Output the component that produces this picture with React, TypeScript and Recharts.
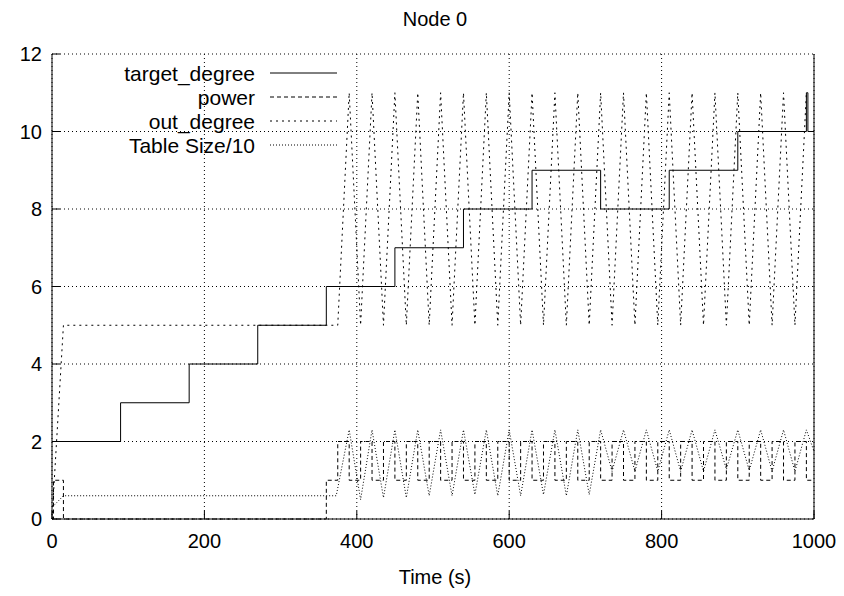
import { LineChart, Line, XAxis, YAxis, CartesianGrid } from "recharts"

// time (s) / value pairs
const targetTime = [0, 90, 180, 270, 360, 450, 540, 630, 720, 810, 900, 990, 992, 1000]
const targetDegree = [2, 3, 4, 5, 6, 7, 8, 9, 8, 9, 10, 11, 10, 10]

const powerTime = [
  0, 2, 15, 360, 375, 390, 405, 420, 435, 450, 465, 480, 495, 510, 525, 540, 555, 570, 585, 600,
  615, 630, 645, 660, 675, 690, 705, 720, 735, 750, 765, 780, 795, 810, 825, 840, 855, 870, 885,
  900, 915, 930, 945, 960, 975, 990, 1000,
]
const powerValue = [
  0, 1, 0, 1, 2, 1, 2, 1, 2, 1, 2, 1, 2, 1, 2, 1, 2, 1, 2, 1,
  2, 1, 2, 1, 2, 1, 2, 1, 2, 1, 2, 1, 2, 1, 2, 1, 2, 1, 2,
  1, 2, 1, 2, 1, 2, 1, 1,
]

const outTime = [
  0, 15, 375, 390, 405, 420, 435, 450, 465, 480, 495, 510, 525, 540, 555, 570, 585, 600,
  615, 630, 645, 660, 675, 690, 705, 720, 735, 750, 765, 780, 795, 810, 825, 840, 855, 870, 885,
  900, 915, 930, 945, 960, 975, 990,
]
const outDegree = [
  0, 5, 5, 11, 5, 11, 5, 11, 5, 11, 5, 11, 5, 11, 5, 11, 5, 11,
  5, 11, 5, 11, 5, 11, 5, 11, 5, 11, 5, 11, 5, 11, 5, 11, 5, 11, 5,
  11, 5, 11, 5, 11, 5, 11,
]

const tableTime = [
  0, 15, 373, 390, 405, 420, 435, 450, 465, 480, 495, 510, 525, 540, 555, 570, 585, 600,
  615, 630, 645, 660, 675, 690, 705, 720, 735, 750, 765, 780, 795, 810, 825, 840, 855, 870, 885,
  900, 915, 930, 945, 960, 975, 990, 1000,
]
const tableSize = [
  0.3, 0.6, 0.6, 2.3, 0.5, 2.3, 0.55, 2.3, 0.55, 2.3, 0.6, 2.3, 0.6, 2.3, 0.63, 2.3, 0.6, 2.3,
  0.6, 2.3, 0.63, 2.3, 0.6, 2.3, 0.63, 2.3, 1.23, 2.3, 1.23, 2.3, 1.23, 2.3, 1.23, 2.3, 1.23, 2.3, 1.28,
  2.3, 1.25, 2.3, 1.23, 2.3, 1.23, 2.3, 1.75,
]

const xTicks = [0, 200, 400, 600, 800, 1000]
const yTicks = [0, 2, 4, 6, 8, 10, 12]

const toRows = (xs: number[], ys: number[]) => xs.map((t, i) => ({ t, v: ys[i] }))

const series = [
  { name: "target_degree", rows: toRows(targetTime, targetDegree), type: "stepAfter", dash: undefined },
  { name: "power", rows: toRows(powerTime, powerValue), type: "stepAfter", dash: "4 3" },
  { name: "out_degree", rows: toRows(outTime, outDegree), type: "linear", dash: "2 4" },
  { name: "Table Size/10", rows: toRows(tableTime, tableSize), type: "linear", dash: "1 2" },
]

const font = "'Liberation Sans', Arial, sans-serif"
const tickStyle = { fill: "#000", fontSize: 20, fontFamily: font }

function LegendBox() {
  return (
    <svg width={340} height={160} style={{ position: "absolute", left: 0, top: 0 }}>
      {series.map((s, i) => {
        const y = 73 + i * 24
        return (
          <g key={s.name}>
            <text x={255} y={y} textAnchor="end" dominantBaseline="central" fontSize={21} fontFamily={font} fill="#000">
              {s.name}
            </text>
            <line x1={270} x2={337} y1={y} y2={y} stroke="#000" strokeDasharray={s.dash} />
          </g>
        )
      })}
    </svg>
  )
}

export default function App() {
  return (
    <div style={{ position: "absolute", left: 0, top: 0, width: 844, height: 596, background: "#fff", fontFamily: font }}>
      <div style={{ position: "absolute", left: 0, width: 870, top: 8, textAlign: "center", fontSize: 20 }}>Node 0</div>
      <LineChart width={844} height={596} margin={{ top: 54, right: 0, left: 0, bottom: 0 }}>
        <CartesianGrid stroke="#000" strokeDasharray="1 3" />
        <XAxis
          dataKey="t"
          type="number"
          domain={[0, 1000]}
          ticks={xTicks}
          height={77}
          stroke="#000"
          tickSize={-8}
          tickMargin={23}
          tick={tickStyle}
          allowDataOverflow
        />
        <XAxis
          xAxisId="top"
          orientation="top"
          type="number"
          domain={[0, 1000]}
          ticks={xTicks}
          height={0}
          stroke="#000"
          tickSize={-8}
          tick={false}
        />
        <YAxis
          type="number"
          domain={[0, 12]}
          ticks={yTicks}
          width={52}
          stroke="#000"
          tickSize={-8}
          tickMargin={18}
          tick={tickStyle}
        />
        <YAxis
          yAxisId="right"
          orientation="right"
          type="number"
          domain={[0, 12]}
          ticks={yTicks}
          width={30}
          stroke="#000"
          tickSize={-8}
          tick={false}
        />
        {series.map((s) => (
          <Line
            key={s.name}
            data={s.rows}
            dataKey="v"
            name={s.name}
            type={s.type as "linear" | "stepAfter"}
            stroke="#000"
            strokeWidth={1}
            strokeDasharray={s.dash}
            dot={false}
            activeDot={false}
            isAnimationActive={false}
          />
        ))}
      </LineChart>
      <LegendBox />
      <div style={{ position: "absolute", left: 0, width: 870, top: 566, textAlign: "center", fontSize: 20 }}>Time (s)</div>
    </div>
  )
}
